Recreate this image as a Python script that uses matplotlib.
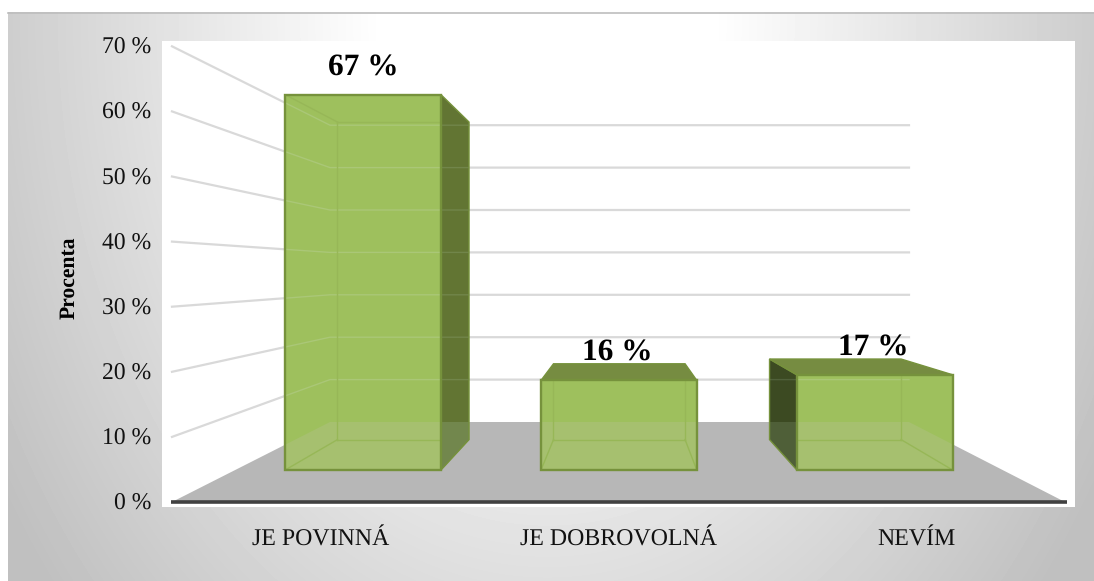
import numpy as np
import matplotlib
matplotlib.use("Agg")
import matplotlib.pyplot as plt
from matplotlib.patches import Polygon, Rectangle

plt.rcParams['font.family'] = ['Liberation Serif', 'DejaVu Serif']
plt.rcParams['text.hinting'] = 'none'

categories = ['JE POVINNÁ', 'JE DOBROVOLNÁ', 'NEVÍM']
values = [67, 16, 17]
y_ticks = [0, 10, 20, 30, 40, 50, 60, 70]
label_shift = [0, -2, -1]

W, H = 1094, 581
BAR_W = 0.203
BAR_FRONT, BAR_BACK = 0.40, 0.78


# perspective of the fake 3d box: x 0-1 across floor, z in %, d 0-1 into the page
def proj(x, z, d):
    left = 172 + 158 * d
    right = 1065 - 156 * d
    base = 502 - 80 * d
    scale = 6.51 - 2.27 * d
    return left + (right - left) * x, base - scale * z


fig = plt.figure(figsize=(W / 100, H / 100), dpi=100)
ax = fig.add_axes([0, 0, 1, 1])
ax.axis('off')

# panel background
xx, yy = np.meshgrid(np.arange(8, W), np.arange(12, H))
rho = np.sqrt(((xx - 547) / 547.0) ** 2 + ((yy - 20) / 750.0) ** 2)
grey = np.clip(255 - 72 * np.clip(rho - 0.3, 0, None), 192, 255) / 255.0
ax.imshow(grey, cmap='gray', vmin=0, vmax=1, extent=(8, W, H, 12), aspect='auto', zorder=0)
ax.plot([8, W], [12.5, 12.5], color='#bdbdbd', lw=1.2, zorder=1)
ax.add_patch(Rectangle((162, 41), 913, 466, fc='white', ec='none', zorder=1))

floor = [proj(0, 0, 0), proj(0, 0, 1), proj(1, 0, 1), proj(1, 0, 0)]
grid_lines = [[proj(0, t, 0), proj(0, t, 1), proj(1, t, 1)] for t in y_ticks[1:]]

# walls
for pts in grid_lines:
    ax.plot(*zip(*pts), color='#d9d9d9', lw=1.6, zorder=2, solid_joinstyle='miter')

# floor
ax.add_patch(Polygon(floor, fc='#b7b7b7', ec='none', zorder=2))
ax.plot([171, 1067], [502, 502], color='#404040', lw=2.6, zorder=3, solid_capstyle='butt')


# a see-through face: flat colour, with floor and grid showing in a tint
def glass(pts, col, floor_col, grid_col, z):
    face = Polygon(pts, fc=col, ec='none', zorder=z)
    ax.add_patch(face)
    tint = Polygon(floor, fc=floor_col, ec='none', zorder=z)
    ax.add_patch(tint)
    tint.set_clip_path(face)
    for line in grid_lines:
        l, = ax.plot(*zip(*line), color=grid_col, lw=1, zorder=z)
        l.set_clip_path(face)


# bars
for i, val in enumerate(values):
    c = (i + 0.5) / 3
    x0, x1 = c - BAR_W / 2, c + BAR_W / 2
    fb0, fb1 = proj(x0, 0, BAR_FRONT), proj(x1, 0, BAR_FRONT)
    ft0, ft1 = proj(x0, val, BAR_FRONT), proj(x1, val, BAR_FRONT)
    bb0, bb1 = proj(x0, 0, BAR_BACK), proj(x1, 0, BAR_BACK)
    bt0, bt1 = proj(x0, val, BAR_BACK), proj(x1, val, BAR_BACK)
    edge = '#76923c'
    inner = '#97b757'

    if bb1[0] > fb1[0] + 1:
        glass([fb1, ft1, bt1, bb1], '#627533', '#72874d', '#71854a', 5)
        ax.add_patch(Polygon([fb1, ft1, bt1, bb1], fc='none', ec=edge, lw=1, zorder=5.5))
    if bb0[0] < fb0[0] - 1:
        glass([fb0, ft0, bt0, bb0], '#3c4a22', '#4f5f38', '#50603a', 5)
        ax.add_patch(Polygon([fb0, ft0, bt0, bb0], fc='none', ec=edge, lw=1, zorder=5.5))
    if bt0[1] < ft0[1]:
        ax.add_patch(Polygon([ft0, ft1, bt1, bt0], fc='#768c41', ec=edge, lw=1, zorder=6))

    front = [fb0, fb1, ft1, ft0]
    glass(front, '#9ec05d', '#a6c06f', '#aac777', 7)

    # box edges seen through the front
    for a, b in [(bb0, bb1), (bb0, bt0), (bb1, bt1), (bt0, bt1), (fb0, bb0), (fb1, bb1), (ft0, bt0), (ft1, bt1)]:
        l, = ax.plot([a[0], b[0]], [a[1], b[1]], color=inner, lw=1, zorder=7.5)
        l.set_clip_path(Polygon(front, transform=ax.transData))

    ax.add_patch(Polygon(front, fc='none', ec=edge, lw=1.7, zorder=8))

    ax.text((fb0[0] + fb1[0]) / 2 + label_shift[i], ft0[1] - 27, '%d %%' % val, fontsize=22.6,
            fontweight='bold', ha='center', va='center', color='black', zorder=9)

    ax.text(proj(c, 0, 0)[0], 540, categories[i], fontsize=17.2, ha='center', va='center', color='#111111')

# value axis labels
for t in y_ticks:
    ax.text(151, proj(0, t, 0)[1] + 2, '%d %%' % t, fontsize=17, ha='right', va='center', color='#111111')

ax.text(69, 278, 'Procenta', fontsize=15.6, fontweight='bold', rotation=90, ha='center', va='center')

ax.set_xlim(0, W)
ax.set_ylim(H, 0)
fig.savefig('out.png', dpi=100, facecolor='white')
